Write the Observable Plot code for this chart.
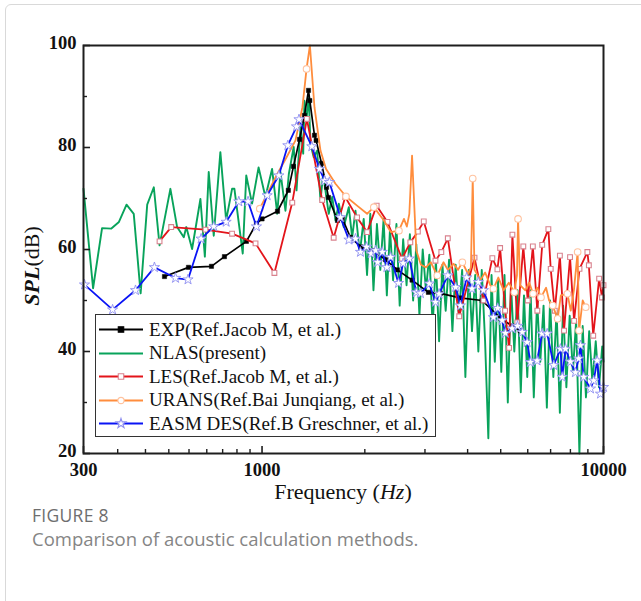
<!DOCTYPE html>
<html><head><meta charset="utf-8">
<script src="https://cdn.jsdelivr.net/npm/d3@7"></script>
<script src="https://cdn.jsdelivr.net/npm/@observablehq/plot@0.6"></script>
<style>
body{margin:0;background:#fff;}
#wrap{position:relative;width:641px;height:601px;overflow:hidden;background:#fff;}
#card{position:absolute;left:5px;top:4px;width:720px;height:720px;border:1px solid #d9d9d9;border-radius:6px;box-sizing:border-box;}
#chart{position:absolute;left:0;top:0;}
#legend{position:absolute;left:95px;top:314px;width:341px;height:123px;background:#fff;border:1.3px solid #333;box-sizing:border-box;font-family:"Liberation Serif",serif;font-size:19px;color:#111;}
.row{position:absolute;left:1px;height:23px;display:flex;align-items:center;white-space:nowrap;}
.row svg{margin-right:4px;}
#cap1{position:absolute;left:32px;top:503px;font-family:"Open Sans",sans-serif;font-size:17.5px;color:#6e6e6e;letter-spacing:0.3px;}
#cap2{position:absolute;left:32px;top:526px;font-family:"Open Sans",sans-serif;font-size:18.5px;color:#858585;}
</style></head>
<body>
<div id="wrap">
  <div id="card"></div>
  <div id="chart"></div>
  <div id="legend"></div>
  <div id="cap1">FIGURE 8</div>
  <div id="cap2">Comparison of acoustic calculation methods.</div>
</div>
<script>
// ---------------- data ----------------
const expFreq = [518, 609, 711, 776, 900, 963, 1000, 1110, 1194, 1236, 1288, 1331, 1368, 1380, 1424, 1440, 1493, 1545, 1565, 1663, 1718, 1814, 1950, 2120, 2300, 2490, 2750, 3070, 3330, 3800, 4410, 5000, 5400, 5700];
const expSpl  = [54.7, 56.5, 56.7, 58.6, 61.6, 65.1, 66.0, 67.5, 71.6, 76.3, 81.6, 86.3, 91.2, 89.2, 82.4, 81.4, 76.9, 72.2, 70.2, 65.7, 66.1, 62.4, 60.5, 59.8, 58.0, 56.0, 54.0, 51.6, 51.4, 50.5, 50.0, 46.5, 45.0, 44.1];

const nlasFreq = [300, 320, 340, 362, 381, 401, 421, 441, 461, 482, 501, 539, 564, 590, 600, 624, 660, 680, 698, 722, 755, 785, 817, 830, 878, 899, 935, 977, 1023, 1070, 1108, 1132, 1171, 1198, 1238, 1262, 1296, 1320, 1331, 1349, 1370, 1386, 1417, 1450, 1483, 1510, 1568, 1605, 1641, 1678, 1735, 1795, 1836, 1878, 1933,
  1985, 2030, 2075, 2120, 2170, 2220, 2270, 2320, 2370, 2420, 2475, 2530, 2590, 2650, 2710, 2770, 2830, 2890, 2955, 3020, 3090, 3160, 3230, 3300, 3375, 3450, 3530, 3610, 3690, 3770, 3855, 3940, 4030, 4120, 4210, 4300, 4400, 4500, 4600, 4700, 4805, 4910, 5020, 5130, 5245, 5360, 5480, 5600, 5725, 5850, 5980, 6115, 6250, 6390, 6530, 6675, 6825, 6975, 7130, 7290, 7450, 7615, 7785, 7960, 8135, 8315, 8500, 8690, 8885, 9080, 9280, 9490, 9700, 9915, 10000];
const nlasSpl  = [71.9, 52.4, 64.2, 64.1, 65.4, 68.8, 67.0, 51.4, 68.8, 72.2, 60.8, 71.9, 64.4, 62.4, 64.4, 60.1, 69.9, 58.6, 75.2, 62.7, 79.1, 65.7, 71.9, 71.9, 59.2, 74.5, 69.0, 76.1, 70.3, 75.8, 67.0, 75.2, 67.6, 74.8, 80.1, 71.6, 84.0, 78.8, 89.2, 85.3, 90.2, 80.7, 78.1, 79.4, 69.6, 74.8, 67.0, 70.3, 65.7, 69.0, 64.4, 68.3, 62.4, 67.6, 59.2,
  66, 55, 67, 52, 65, 56, 66, 51, 64, 54, 65, 49, 62, 53, 63, 50, 61, 47, 60, 52, 59, 45, 58, 42, 57, 48, 58, 44, 57, 47, 56, 35, 56, 44, 55, 40, 56, 42, 23, 55, 38, 54, 36, 55, 30, 53, 40, 52, 32, 51, 35, 52, 31, 50, 38, 49, 29, 50, 35, 48, 28, 49, 33, 47, 36, 46, 20, 45, 31, 44, 34, 42, 33, 41, 38];

const lesFreq = [501, 542, 683, 817, 957, 1087, 1226, 1353, 1500, 1621, 1752, 1898, 2031, 2166, 2330, 2570, 2718, 2860, 2976, 3220, 3350, 3500, 3780, 4190, 4450, 4726, 4890, 4980, 5150, 5290, 5410, 5592, 5823, 6000, 6210, 6400, 6615, 6895, 7005, 7200, 7452, 7663, 7980, 8200, 8505, 8970, 9060, 9330, 9710, 9900, 10000];
const lesSpl  = [61.6, 64.4, 63.9, 63.1, 61.2, 55.4, 69.2, 85.6, 69.7, 62.3, 70.3, 66.3, 63.4, 68.6, 65.4, 58.2, 61.4, 63.5, 65.5, 57.8, 59.5, 62.2, 46.9, 58.4, 50.0, 58.3, 56.1, 60.3, 48.0, 40.7, 62.9, 45.7, 60.6, 50.0, 60.6, 48.0, 60.9, 64.0, 56.2, 48.0, 58.8, 44.1, 58.5, 46.0, 56.2, 59.5, 56.9, 43.1, 54.3, 50.6, 53.0];

const uransFreq = [985, 1108, 1180, 1253, 1313, 1350, 1381, 1424, 1483, 1540, 1641, 1761, 1898, 2031, 2125, 2275, 2383, 2517, 2604, 2655, 2700, 2750, 2830, 2920, 3020, 3120, 3260, 3400, 3500, 3640, 3750, 3860, 4010, 4090, 4140, 4190, 4360, 4500, 4660, 4760, 4920, 5100, 5280, 5480, 5580, 5620, 5700, 5900, 6060, 6220, 6400, 6560, 6790, 6930, 7100, 7340, 7500, 7840, 8020, 8190, 8400, 8480, 8690, 8870];
const uransSpl  = [68.0, 74.8, 78.1, 81.4, 87.9, 95.4, 100, 87.9, 79.4, 75.8, 72.9, 70.4, 68.6, 67.0, 68.3, 65.7, 63.4, 63.7, 66.0, 64.5, 67.0, 78.4, 59.8, 57.0, 56.5, 57.5, 54.9, 57.5, 56.0, 57.2, 56.0, 57.5, 55.2, 56.5, 73.9, 56.0, 54.0, 55.5, 53.0, 52.3, 54.5, 52.0, 53.5, 51.6, 55.0, 66.0, 53.0, 52.0, 53.5, 51.3, 52.5, 50.6, 52.5, 50.0, 49.0, 46.4, 51.0, 51.3, 48.0, 52.0, 59.5, 44.1, 50.0, 48.7];
const uransMarkerFreq = [985, 1350, 1761, 2125, 2517, 3260, 3860, 4140, 4760, 5480, 5620, 6220, 6560, 7100, 7340, 7840, 8400, 8480, 8870];

const easmFreq = [302, 365, 426, 484, 558, 607, 663, 722, 785, 855, 910, 963, 1035, 1120, 1190, 1262, 1283, 1399, 1473, 1525, 1575, 1697, 1797, 1878, 1942, 2022, 2088, 2152, 2180, 2250, 2320, 2380, 2510, 2590, 2700, 2830, 2910, 3090, 3220, 3300, 3500, 3690, 3810, 3975, 4120, 4300, 4450, 4760, 4900, 5050, 5160, 5400, 5600, 5780, 5975, 6110, 6390, 6610, 6840, 7150, 7480, 7570, 7740, 8000, 8275, 8460, 8560, 8750, 9160, 9360, 9580, 9800, 10000];
const easmSpl  = [53.1, 48.2, 52.0, 56.5, 54.4, 54.1, 62.1, 64.5, 65.4, 69.4, 69.4, 64.5, 70.6, 74.5, 80.4, 84.1, 85.5, 80.2, 75.8, 73.5, 73.2, 66.3, 61.9, 62.1, 59.5, 60.5, 59.2, 59.8, 57.5, 59.5, 56.5, 58.5, 53.4, 57.3, 58.2, 51.6, 51.4, 53.3, 49.7, 51.3, 54.9, 52.6, 49.0, 54.5, 52.3, 53.6, 52.0, 46.7, 48.5, 46.1, 43.6, 44.5, 45.0, 43.8, 41.8, 37.9, 38.2, 43.5, 43.5, 37.3, 40.5, 35.0, 40.5, 38.0, 35.9, 38.6, 41.2, 35.0, 32.7, 34.3, 38.2, 31.7, 33.0];

const yMajor = [20, 40, 60, 80, 100];
const yMinor = [30, 50, 70, 90];
const xMajor = [300, 1000, 10000];
const xMinor = [377.8, 455.6, 533.3, 611.1, 688.9, 766.7, 844.4, 922.2, 2000, 3000, 4000, 5000, 6000, 7000, 8000, 9000];

const legendLabels = ["EXP(Ref.Jacob M, et al.)", "NLAS(present)", "LES(Ref.Jacob M, et al.)", "URANS(Ref.Bai Junqiang, et al.)", "EASM DES(Ref.B Greschner, et al.)"];

// ---------------- styles ----------------
const C = {
  exp: "#000000", nlas: "#08a35b", les: "#e3141a", lesMark: "#d9828e",
  urans: "#ff8d3d", uransMark: "#ffc3a0", easm: "#0a14f5", easmMark: "#8f8ff0", axis: "#1e1e1e"
};

const rows = (f, s) => f.map((x, i) => ({f: x, s: s[i]}));
const exp = rows(expFreq, expSpl);
const nlas = rows(nlasFreq, nlasSpl);
const les = rows(lesFreq, lesSpl);
const urans = rows(uransFreq, uransSpl);
const uransMarks = urans.filter(d => uransMarkerFreq.includes(d.f));
const easm = rows(easmFreq, easmSpl);

const W = 641, H = 500, ML = 83, MR = 38, MT = 45, MB = 47;
const PW = W - ML - MR, PH = H - MT - MB;

const plot = Plot.plot({
  width: W, height: H,
  marginLeft: ML, marginRight: MR, marginTop: MT, marginBottom: MB,
  x: {type: "log", domain: [300, 10000], axis: null},
  y: {domain: [20, 100], axis: null},
  style: {fontFamily: "'Liberation Serif', serif", background: "transparent", overflow: "visible"},
  marks: [
    Plot.line(nlas, {x: "f", y: "s", stroke: C.nlas, strokeWidth: 1.9}),
    Plot.line(exp, {x: "f", y: "s", stroke: C.exp, strokeWidth: 1.7}),
    Plot.dot(exp, {x: "f", y: "s", symbol: "square", r: 2.4, fill: C.exp, stroke: C.exp, strokeWidth: 0.5}),
    Plot.line(les, {x: "f", y: "s", stroke: C.les, strokeWidth: 1.8}),
    Plot.dot(les, {x: "f", y: "s", symbol: "square", r: 2.7, fill: "white", stroke: C.lesMark, strokeWidth: 1.1}),
    Plot.line(urans, {x: "f", y: "s", stroke: C.urans, strokeWidth: 1.8}),
    Plot.dot(uransMarks, {x: "f", y: "s", symbol: "circle", r: 3.3, fill: "white", stroke: C.uransMark, strokeWidth: 1.1}),
    Plot.line(easm, {x: "f", y: "s", stroke: C.easm, strokeWidth: 1.8}),
    Plot.dot(easm, {x: "f", y: "s", symbol: "star", r: 3.2, fill: "white", stroke: C.easmMark, strokeWidth: 0.9}),
    Plot.frame({stroke: C.axis, strokeWidth: 2}),
    Plot.tickY(yMajor, {y: d => d, insetRight: PW - 7, stroke: C.axis, strokeWidth: 1.6}),
    Plot.tickY(yMinor, {y: d => d, insetRight: PW - 4, stroke: C.axis, strokeWidth: 1.4}),
    Plot.tickX(xMajor, {x: d => d, insetTop: PH - 7, stroke: C.axis, strokeWidth: 1.6}),
    Plot.tickX(xMinor, {x: d => d, insetTop: PH - 4, stroke: C.axis, strokeWidth: 1.4}),
    Plot.text(yMajor, {y: d => d, text: d => String(d), frameAnchor: "left", dx: -7, dy: -2, textAnchor: "end", fontSize: 18.5, fontWeight: "bold", fill: "#111"}),
    Plot.text(xMajor, {x: d => d, text: d => String(d), frameAnchor: "bottom", dy: 22, fontSize: 18.5, fontWeight: "bold", fill: "#111"})
  ]
});
document.getElementById("chart").appendChild(plot);

// axis titles
const svg = d3.select(plot);
const xt = svg.append("text").attr("x", ML + PW / 2).attr("y", 499).attr("text-anchor", "middle")
  .attr("font-size", 22).attr("fill", "#111").attr("font-family", "'Liberation Serif', serif");
xt.append("tspan").text("Frequency (");
xt.append("tspan").attr("font-style", "italic").text("Hz");
xt.append("tspan").text(")");
const yt = svg.append("text").attr("transform", `translate(39,266) rotate(-90)`).attr("text-anchor", "middle")
  .attr("font-size", 22).attr("fill", "#111").attr("font-family", "'Liberation Serif', serif");
yt.append("tspan").attr("font-style", "italic").attr("font-weight", "bold").text("SPL");
yt.append("tspan").text("(dB)");

// legend
const legendStyles = [
  {color: C.exp, symbol: d3.symbolSquare, fill: C.exp, mstroke: C.exp},
  {color: C.nlas, symbol: null},
  {color: C.les, symbol: d3.symbolSquare, fill: "white", mstroke: C.lesMark},
  {color: C.urans, symbol: d3.symbolCircle, fill: "white", mstroke: C.uransMark},
  {color: C.easm, symbol: d3.symbolStar, fill: "white", mstroke: C.easmMark}
];
const leg = d3.select("#legend");
legendLabels.forEach((lab, i) => {
  const st = legendStyles[i];
  const r = leg.append("div").attr("class", "row").style("top", (3 + i * 23.5) + "px");
  const s = r.append("svg").attr("width", 48).attr("height", 23);
  s.append("line").attr("x1", 2).attr("x2", 46).attr("y1", 11.5).attr("y2", 11.5).attr("stroke", st.color).attr("stroke-width", 1.9);
  if (st.symbol) {
    s.append("path").attr("d", d3.symbol(st.symbol, 30)()).attr("transform", "translate(24,11.5)")
      .attr("fill", st.fill).attr("stroke", st.mstroke).attr("stroke-width", 1.1);
  }
  r.append("span").text(lab);
});
</script>
</body></html>
